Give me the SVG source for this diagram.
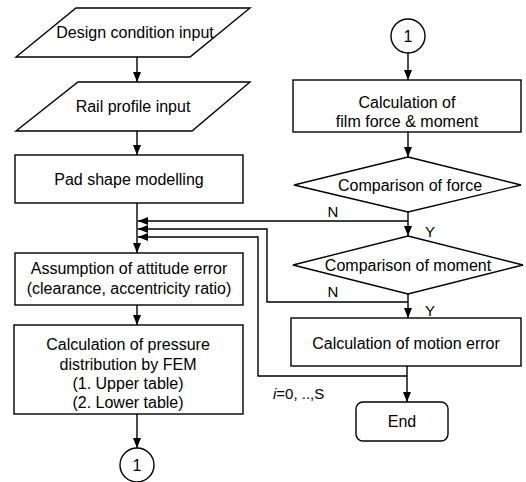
<svg xmlns="http://www.w3.org/2000/svg" width="526" height="482" viewBox="0 0 526 482">
<style>
.s{fill:#fff;stroke:#000;stroke-width:1.4}
.l{fill:none;stroke:#000;stroke-width:1.4}
text{font-family:"Liberation Sans",Arial,sans-serif;font-size:16px;fill:#000;text-anchor:middle}
.lb{font-size:15px}
</style>
<defs>
<marker id="a" viewBox="0 0 10 8" refX="10" refY="4" markerWidth="10" markerHeight="8" markerUnits="userSpaceOnUse" orient="auto">
<path d="M0,0 L10,4 L0,8 z" fill="#000"/>
</marker>
</defs>
<rect width="526" height="482" fill="#fff"/>
<g id="connectors">
<path class="l" d="M137,57 V82" marker-end="url(#a)"/>
<path class="l" d="M137,131 V155" marker-end="url(#a)"/>
<path class="l" d="M137,203 V253" marker-end="url(#a)"/>
<path class="l" d="M137,305 V325" marker-end="url(#a)"/>
<path class="l" d="M137,414 V448" marker-end="url(#a)"/>
<path class="l" d="M408,53 V80" marker-end="url(#a)"/>
<path class="l" d="M408,132 V157" marker-end="url(#a)"/>
<path class="l" d="M408,212 V236" marker-end="url(#a)"/>
<path class="l" d="M408,294 V318" marker-end="url(#a)"/>
<path class="l" d="M407,366 V402" marker-end="url(#a)"/>
<path class="l" d="M408,221 H138" marker-end="url(#a)"/>
<path class="l" d="M408,302 H267 V229 H138" marker-end="url(#a)"/>
<path class="l" d="M407,376 H258 V237 H138" marker-end="url(#a)"/>
<text class="lb" x="333" y="217">N</text>
<text class="lb" x="333" y="297">N</text>
<text class="lb" x="430" y="237">Y</text>
<text class="lb" x="430" y="316">Y</text>
<text class="lb" x="273" y="399" style="text-anchor:start"><tspan font-style="italic">i</tspan>=0, ..,S</text>
</g>
<g id="design-input">
<polygon class="s" points="76,8 250,8 190,57 16,57"/>
<text x="135" y="38">Design condition input</text>
</g>
<g id="rail-input">
<polygon class="s" points="78,82 250,82 192,131 16,131"/>
<text x="133" y="112">Rail profile input</text>
</g>
<g id="pad-shape">
<rect class="s" x="15" y="155" width="228" height="48"/>
<text x="129" y="185">Pad shape modelling</text>
</g>
<g id="assumption">
<rect class="s" x="15" y="253" width="228" height="52"/>
<text x="129" y="274">Assumption of attitude error</text>
<text x="129" y="294">(clearance, accentricity ratio)</text>
</g>
<g id="pressure">
<rect class="s" x="14" y="325" width="229" height="89"/>
<text x="128" y="350">Calculation of pressure</text>
<text x="128" y="370">distribution by FEM</text>
<text x="128" y="389">(1. Upper table)</text>
<text x="128" y="408">(2. Lower table)</text>
</g>
<g id="conn-out">
<circle class="s" cx="137" cy="465" r="17"/>
<text x="137" y="471">1</text>
</g>
<g id="conn-in">
<circle class="s" cx="408" cy="36" r="17"/>
<text x="408" y="42">1</text>
</g>
<g id="film-force">
<rect class="s" x="293" y="80" width="228" height="52"/>
<text x="407" y="108">Calculation of</text>
<text x="407" y="127">film force &amp; moment</text>
</g>
<g id="cmp-force">
<polygon class="s" points="408,157 521,185 408,212 294,185"/>
<text x="410" y="191">Comparison of force</text>
</g>
<g id="cmp-moment">
<polygon class="s" points="408,236 523,265 408,294 293,265"/>
<text x="408" y="271">Comparison of moment</text>
</g>
<g id="motion-error">
<rect class="s" x="291" y="318" width="230" height="48"/>
<text x="406" y="349">Calculation of motion error</text>
</g>
<g id="end">
<rect class="s" x="356" y="402" width="92" height="39" rx="7"/>
<text x="402" y="427">End</text>
</g>
</svg>
